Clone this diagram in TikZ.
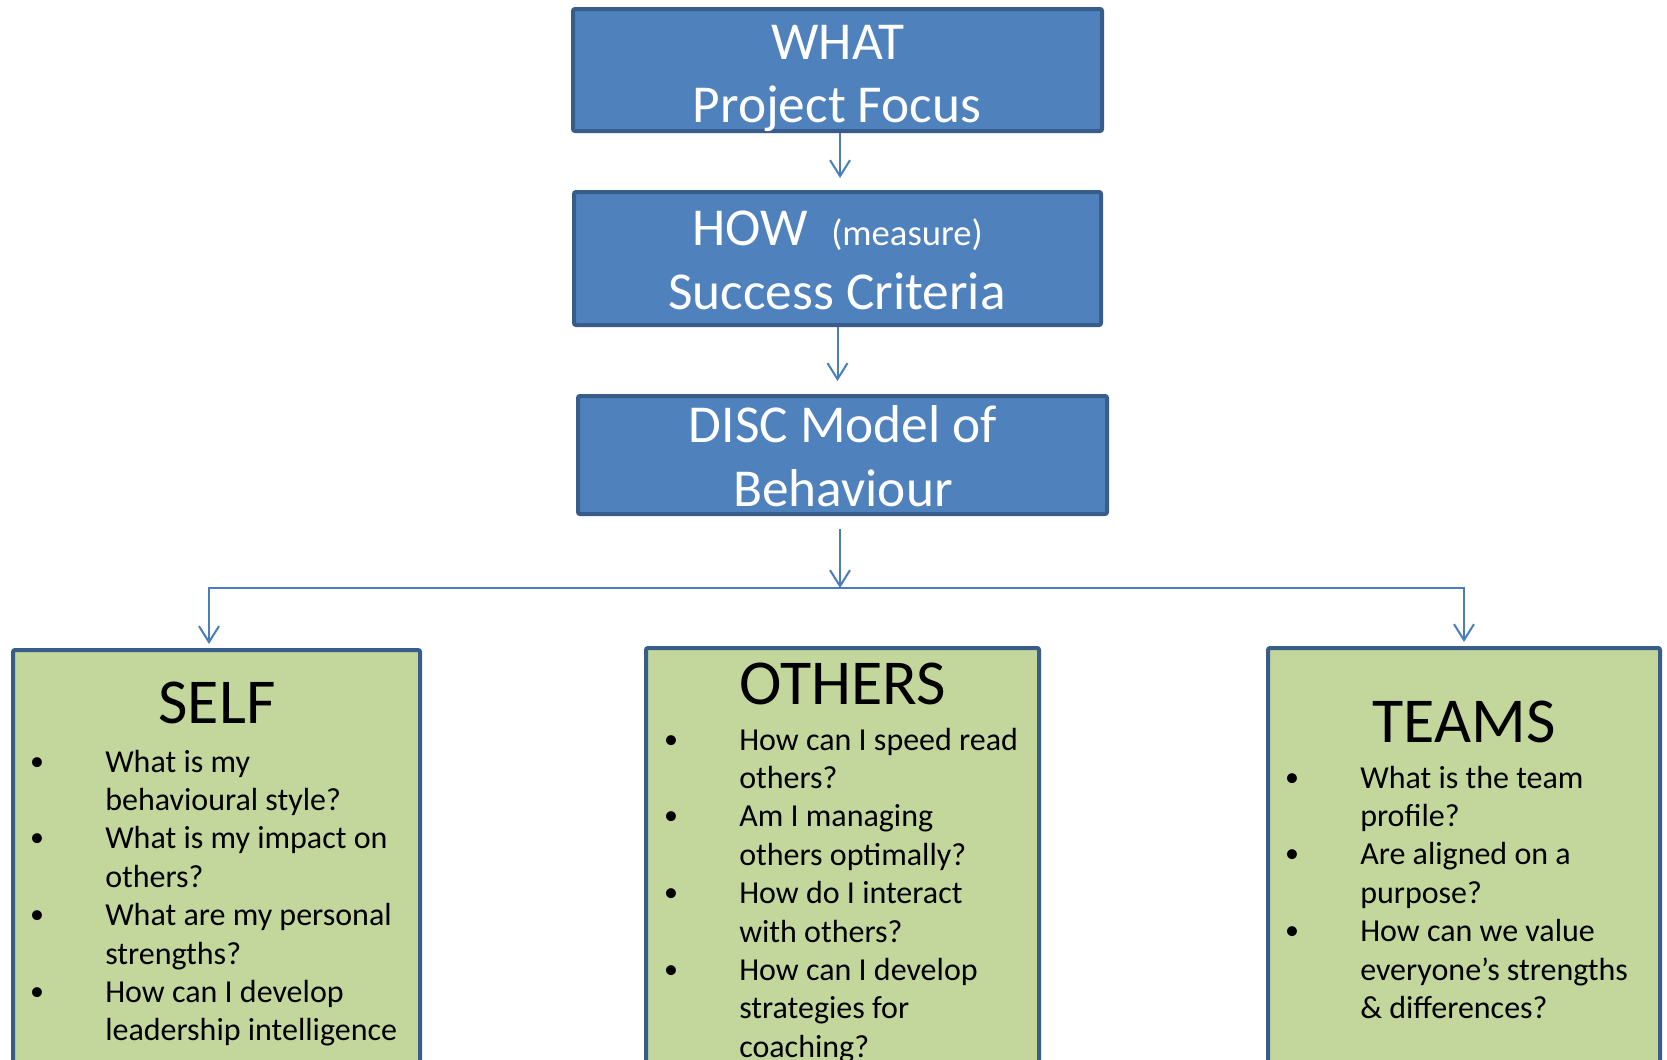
\documentclass[tikz,border=0pt]{standalone}
\usepackage{fontspec}
\setmainfont{Carlito}
\usetikzlibrary{arrows.meta}
\definecolor{boxblue}{HTML}{4F81BD}
\definecolor{edgeblue}{HTML}{385D8A}
\definecolor{boxgreen}{HTML}{C3D69B}
\definecolor{linkblue}{HTML}{4A7EBB}
\begin{document}
\begin{tikzpicture}[x=0.75pt,y=-0.75pt,
  stage/.style={draw=edgeblue, fill=boxblue, line width=3pt, rounded corners=1.5pt, inner sep=0pt},
  area/.style={draw=edgeblue, fill=boxgreen, line width=3pt, rounded corners=1.5pt, inner sep=0pt},
  big/.style={text=white, inner sep=0pt, anchor=base, font=\fontsize{40}{48}\selectfont},
  head/.style={inner sep=0pt, anchor=base, font=\fontsize{48}{58}\selectfont},
  item/.style={inner sep=0pt, anchor=base west, font=\fontsize{24}{29}\selectfont},
  dot/.style={inner sep=0pt, anchor=base, font=\fontsize{21}{25}\selectfont},
  link/.style={draw=linkblue, line width=1.5pt},
  barb/.style={-{Straight Barb[length=12pt,width=15pt]}},
]
% page frame
\useasboundingbox (0,0) rectangle (1667,1060);
\fill[white] (0,0) rectangle (1667,1060);
\clip (0,0) rectangle (1667,1060);

% the three stages
\node[stage, minimum width=396.75pt, minimum height=91.5pt] (what) at (837.5,70) {};
\node[stage, minimum width=395.25pt, minimum height=99.75pt] (how) at (837.5,258.5) {};
\node[stage, minimum width=396.75pt, minimum height=88.5pt] (disc) at (842.5,455) {};

\node[big] (whatA) at (838,59) {WHAT};
\node[big] (whatB) at (837,122) {Project Focus};
\node[big, anchor=base west] (howA) at (692,245) {HOW};
\node[text=white, inner sep=0pt, anchor=base west, font=\fontsize{27.5}{33}\selectfont] (howB) at (831,245) {(measure)};
\node[big] (howC) at (837,309) {Success Criteria};
\node[big] (discA) at (843,442) {DISC Model of};
\node[big] (discB) at (843,506) {Behaviour};

% the three areas
\node[area, minimum width=305.25pt, minimum height=322.5pt] (self) at (216.5,865) {};
\node[area, minimum width=294.75pt, minimum height=324pt] (others) at (842.5,864) {};
\node[area, minimum width=294pt, minimum height=324pt] (teams) at (1464,864) {};

\node[head] (selfT) at (217,723) {SELF};
\node[head] (othersT) at (842.5,704) {OTHERS};
\node[head] (teamsT) at (1464,742) {TEAMS};

% SELF questions
\foreach \t [count=\i] in {What is my, behavioural style?, What is my impact on, others?,
    What are my personal, strengths?, How can I develop, leadership intelligence}
  \node[item] (self\i) at (105,{772+38.4*(\i-1)}) {\t};
\foreach \i in {1,3,5,7}
  \node[dot] (selfdot\i) at (37,{770+38.4*(\i-1)}) {•};

% OTHERS questions
\foreach \t [count=\i] in {How can I speed read, others?, Am I managing, others optimally?,
    How do I interact, with others?, How can I develop, strategies for, coaching?}
  \node[item] (others\i) at (739,{750+38.4*(\i-1)}) {\t};
\foreach \i in {1,3,5,7}
  \node[dot] (othersdot\i) at (671,{748+38.4*(\i-1)}) {•};

% TEAMS questions
\foreach \t [count=\i] in {What is the team, profile?, Are aligned on a, purpose?,
    How can we value, everyone’s strengths, \& differences?}
  \node[item] (teams\i) at (1360,{788+38.4*(\i-1)}) {\t};
\foreach \i in {1,3,5}
  \node[dot] (teamsdot\i) at (1292,{786+38.4*(\i-1)}) {•};

% connectors
\coordinate (split) at (840,588);
\coordinate (lft) at (209,588);
\coordinate (rgt) at (1464,588);

\draw[link, barb, shorten >=9pt] ([xshift=1.9pt]what.south) -- ([xshift=1.9pt]how.north);
\draw[link, barb, shorten >=9.75pt] (how.south) -- (how.south |- disc.north);
\draw[link, barb, shorten <=9.75pt] (split |- disc.south) -- (split);
\draw[link, {Straight Barb[length=12pt,width=15pt]}-{Straight Barb[length=12pt,width=15pt]},
      shorten <=3pt, shorten >=3pt]
  (lft |- self.north) -- (lft) -- (rgt) -- (rgt |- teams.north);
\end{tikzpicture}
\end{document}
